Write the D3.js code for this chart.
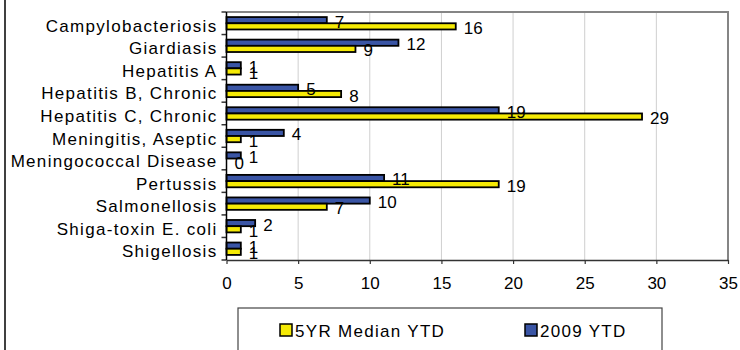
<!DOCTYPE html>
<html>
<head>
<meta charset="utf-8">
<script src="https://cdn.jsdelivr.net/npm/d3@7"></script>
<style>
  html, body { margin: 0; padding: 0; background: #fff; }
  svg { display: block; }
  text { font-family: "Liberation Sans", Arial, sans-serif; fill: #000; }
</style>
</head>
<body>
<svg id="chart" width="740" height="350"></svg>
<script>
// Reportable diseases, year-to-date counts
const categories = [
  "Campylobacteriosis",
  "Giardiasis",
  "Hepatitis A",
  "Hepatitis B, Chronic",
  "Hepatitis C, Chronic",
  "Meningitis, Aseptic",
  "Meningococcal Disease",
  "Pertussis",
  "Salmonellosis",
  "Shiga-toxin E. coli",
  "Shigellosis"
];
const ytd2009 = [7, 12, 1, 5, 19, 4, 1, 11, 10, 2, 1];
const median5yr = [16, 9, 1, 8, 29, 1, 0, 19, 7, 1, 1];
const xTicks = [0, 5, 10, 15, 20, 25, 30, 35];
const seriesNames = ["5YR Median YTD", "2009 YTD"];

const colors = { median: "#f5ea05", ytd: "#3a55a5" };

const svg = d3.select("#chart");
const plot = { left: 226.5, right: 728, top: 12, bottom: 260 };

const x = d3.scaleLinear().domain([0, 35]).range([plot.left, plot.right]);
const y = d3.scaleBand().domain(categories).range([plot.top, plot.bottom])
  .paddingInner(0.45).paddingOuter(0.225);
const sub = d3.scaleBand().domain(["ytd", "median"]).range([0, y.bandwidth()]);

// outer frame edge on the left
svg.append("line").attr("x1", 5).attr("x2", 5).attr("y1", 0).attr("y2", 350)
  .attr("stroke", "#000").attr("stroke-width", 1.5);

// vertical gridlines
svg.append("g").selectAll("line").data(xTicks.filter(d => d > 0 && d < 35)).join("line")
  .attr("x1", d => x(d)).attr("x2", d => x(d))
  .attr("y1", plot.top).attr("y2", plot.bottom)
  .attr("stroke", "#cfcfcf").attr("stroke-width", 1);

// gray frame on top and right
svg.append("path")
  .attr("d", `M${plot.left},${plot.top}H${plot.right}V${plot.bottom}`)
  .attr("fill", "none").attr("stroke", "#858585").attr("stroke-width", 2);

// bars
const rows = categories.map((c, i) => ({ c, ytd: ytd2009[i], median: median5yr[i] }));
const g = svg.append("g");
rows.forEach(r => {
  ["ytd", "median"].forEach(k => {
    const y0 = y(r.c) + sub(k);
    g.append("rect")
      .attr("x", x(0)).attr("y", y0)
      .attr("width", x(r[k]) - x(0)).attr("height", sub.bandwidth())
      .attr("fill", colors[k]).attr("stroke", "#000").attr("stroke-width", 1.8);
  });
});
rows.forEach(r => {
  ["ytd", "median"].forEach(k => {
    const y0 = y(r.c) + sub(k);
    g.append("text")
      .attr("x", x(r[k]) + 8).attr("y", y0 + sub.bandwidth() / 2 + 7.5)
      .attr("font-size", 17)
      .text(r[k]);
  });
});

// category axis
const yAxis = d3.axisLeft(y).tickSize(0).tickPadding(9);
const ya = svg.append("g").attr("transform", `translate(${plot.left},0)`).call(yAxis);
ya.select(".domain").remove();
ya.selectAll("text").attr("font-size", 17).attr("dy", "0.5em")
  .attr("font-family", "Liberation Sans, Arial, sans-serif").attr("fill", "#000")
  .style("letter-spacing", "1.3px");
// boundary ticks between categories
const bounds = d3.range(categories.length + 1).map(i => plot.top + i * y.step());
svg.append("g").selectAll("line").data(bounds).join("line")
  .attr("x1", plot.left - 5).attr("x2", plot.left)
  .attr("y1", d => d).attr("y2", d => d)
  .attr("stroke", "#333").attr("stroke-width", 1.5);
svg.append("line").attr("x1", plot.left).attr("x2", plot.left)
  .attr("y1", plot.top).attr("y2", plot.bottom)
  .attr("stroke", "#000").attr("stroke-width", 1.5);

// value axis
const xAxis = d3.axisBottom(x).tickValues(xTicks).tickSize(4).tickPadding(13).tickSizeOuter(0);
const xa = svg.append("g").attr("transform", `translate(0,${plot.bottom})`).call(xAxis);
xa.select(".domain").attr("stroke", "#333").attr("stroke-width", 1.5);
xa.selectAll(".tick line").attr("stroke", "#333").attr("stroke-width", 1.2);
xa.selectAll("text").attr("font-size", 17)
  .attr("font-family", "Liberation Sans, Arial, sans-serif").attr("fill", "#000");

// legend
const legend = svg.append("g");
legend.append("rect").attr("x", 238).attr("y", 308).attr("width", 424).attr("height", 50)
  .attr("fill", "#fff").attr("stroke", "#444").attr("stroke-width", 1.2);
const legendItems = [
  { name: seriesNames[0], color: colors.median, x: 280 },
  { name: seriesNames[1], color: colors.ytd, x: 525 }
];
legendItems.forEach(d => {
  legend.append("rect").attr("x", d.x).attr("y", 324).attr("width", 12).attr("height", 12)
    .attr("fill", d.color).attr("stroke", "#000").attr("stroke-width", 1.5);
  legend.append("text").attr("x", d.x + 15).attr("y", 337)
    .attr("font-size", 17).style("letter-spacing", "1.3px").text(d.name);
});
</script>
</body>
</html>
